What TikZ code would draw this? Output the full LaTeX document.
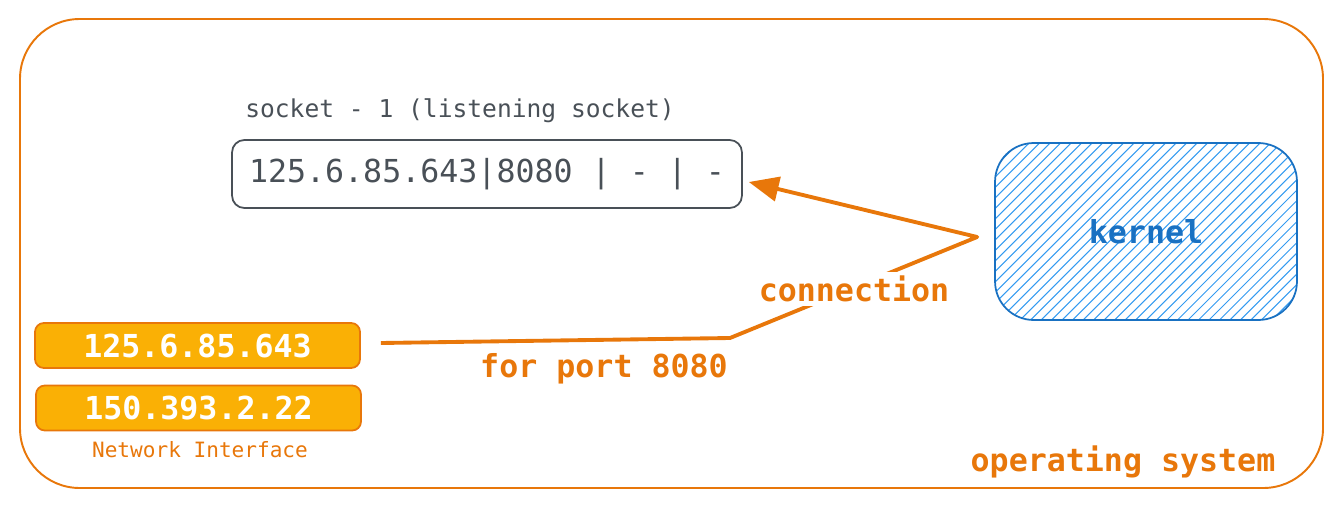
\documentclass[tikz,border=0pt]{standalone}
\usepackage{fontspec}
\setmonofont{DejaVu Sans Mono}
\usetikzlibrary{arrows.meta}

\definecolor{osorange}{HTML}{E8770A}
\definecolor{nicfill}{HTML}{FAB005}
\definecolor{sockgray}{HTML}{495057}
\definecolor{kernblue}{HTML}{1971C2}
\definecolor{hatchblue}{HTML}{339AF0}

\tikzset{
  nicbox/.style={draw=osorange, fill=nicfill, line width=1pt, rounded corners=5pt,
    minimum width=6.5cm, minimum height=0.9cm, text=white,
    font=\ttfamily\bfseries\fontsize{18}{20}\selectfont},
  sockbox/.style={draw=sockgray, line width=1pt, rounded corners=7pt,
    minimum width=10.2cm, minimum height=1.36cm, text=sockgray,
    font=\ttfamily\fontsize{18}{20}\selectfont},
  kernbox/.style={draw=kernblue, line width=1pt, rounded corners=22pt,
    minimum width=6.04cm, minimum height=3.54cm, text=kernblue,
    font=\ttfamily\bfseries\fontsize{18}{20}\selectfont,
    path picture={\foreach \i in {-31,...,14}
      \draw[hatchblue, line width=0.6pt] ([xshift={\i*0.21cm}]path picture bounding box.south) -- ++(3.8cm,3.8cm);}},
  orangelbl/.style={text=osorange, font=\ttfamily\bfseries\fontsize{18}{20}\selectfont},
  link/.style={draw=osorange, line width=2.2pt, line join=round,
    -{Triangle[length=17pt,width=14pt]}}
}

\begin{document}
\begin{tikzpicture}[x=0.02cm, y=-0.02cm]
\useasboundingbox (0,0) rectangle (1341,507);

% operating system frame
\draw[osorange, line width=1.1pt, rounded corners=34pt] (20,19) rectangle (1323,488);
\node[orangelbl] (os) at (1123,462) {operating system};

% listening socket
\node[text=sockgray, font=\ttfamily\fontsize{14}{16}\selectfont] (socklbl) at (460,111) {socket - 1 (listening socket)};
\node[sockbox] (sock) at (487,174) {125.6.85.643|8080 | - | -};

% kernel
\node[kernbox] (kernel) at (1146,231.5) {\raisebox{-0.1cm}{kernel}};

% network interface
\node[nicbox] (nic1) at (197.5,345.5) {125.6.85.643};
\node[nicbox] (nic2) at (198.5,408) {150.393.2.22};
\node[text=osorange, font=\ttfamily\fontsize{12}{14}\selectfont] (niclbl) at (200,450) {Network Interface};

% connection
\coordinate (start) at ([xshift=0.4cm,yshift=0.05cm]nic1.east);
\coordinate (bend) at (730,338);
\draw[link] (start) -- (bend) -- ([xshift=-0.34cm,yshift=-0.11cm]kernel.west) -- ([xshift=0.12cm,yshift=-0.16cm]sock.east);
\node[orangelbl, fill=white, inner sep=2pt] (conn) at (854,289) {connection};
\node[orangelbl] (port) at (604,369) {for port 8080};
\end{tikzpicture}
\end{document}
